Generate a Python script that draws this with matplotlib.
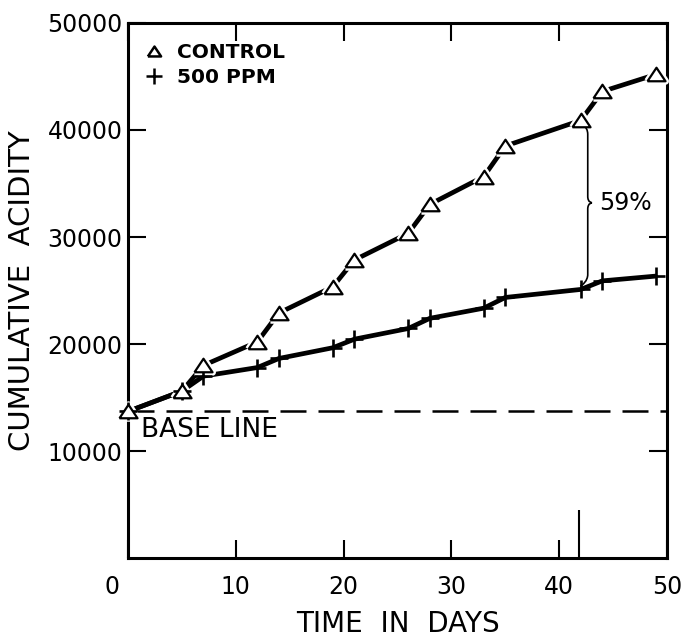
import numpy as np
import matplotlib
matplotlib.use('Agg')
import matplotlib.pyplot as plt
from matplotlib.lines import Line2D
from matplotlib.path import Path
from matplotlib.patches import PathPatch
from matplotlib.transforms import ScaledTranslation

# values
days = [0, 5, 7, 12, 14, 19, 21, 26, 28, 33, 35, 42, 44, 49]
control = [13700, 15600, 18000, 20200, 22900, 25350, 27850, 30350,
           33050, 35650, 38500, 40900, 43600, 45200]
ppm500 = [13700, 15600, 17000, 17800, 18650, 19650, 20450, 21450,
          22400, 23350, 24350, 25100, 25900, 26350]
base_line = 13700
diff_day = 42          # where the 59% difference is marked
diff_label = '59%'
tall_tick_day = 41.8
tall_tick_height = 4500

xticks = [0, 10, 20, 30, 40, 50]
yticks = [10000, 20000, 30000, 40000, 50000]

plt.rcParams['font.family'] = 'DejaVu Sans'

fig = plt.figure(figsize=(6.81, 6.37), dpi=100)
ax = fig.add_axes([0.188, 0.124, 0.7914, 0.8399])

tri = [(-1, -0.75), (1, -0.75), (0, 0.75), (-1, -0.75)]

# connecting lines
ax.plot(days, control, color='black', lw=3.4, zorder=2, solid_capstyle='butt')
ax.plot(days, ppm500, color='black', lw=3.4, zorder=2, solid_capstyle='butt')

# white halo around the triangles, then the markers themselves
ax.plot(days, control, ls='none', marker=tri, ms=13, mfc='white', mec='white',
        mew=5, zorder=3, clip_on=False)
ax.plot(days, ppm500, ls='none', marker='+', ms=13, mec='black', mew=1.9,
        zorder=4, clip_on=False)
ax.plot(days, control, ls='none', marker=tri, ms=13, mfc='white', mec='black',
        mew=1.6, zorder=5, clip_on=False)

# dashed base line
ax.axhline(base_line, color='black', lw=1.8, dashes=(10.4, 4.8), zorder=1)
ax.text(1.2, base_line - 550, 'BASE LINE', fontsize=19, va='top', ha='left')

# brace showing the difference at day 42
i = days.index(diff_day)
ytop, ybot = control[i] - 700, ppm500[i] + 800
ymid = (control[i] + ppm500[i]) / 2 + 200
x0 = diff_day + 0.65
s = 600
verts = [(x0 - 0.45, ytop + 250), (x0, ytop), (x0, ytop - s),
         (x0, ymid + s),
         (x0, ymid), (x0 + 0.4, ymid), (x0 + 0.4, ymid),
         (x0 + 0.4, ymid), (x0, ymid), (x0, ymid - s),
         (x0, ybot + s),
         (x0, ybot), (x0 - 0.5, ybot - 400), (x0 - 0.7, ybot - 500)]
codes = [Path.MOVETO, Path.CURVE3, Path.CURVE3,
         Path.LINETO,
         Path.CURVE4, Path.CURVE4, Path.CURVE4,
         Path.CURVE4, Path.CURVE4, Path.CURVE4,
         Path.LINETO,
         Path.CURVE4, Path.CURVE4, Path.CURVE4]
ax.add_patch(PathPatch(Path(verts, codes), fill=False, lw=1.2, color='black', zorder=3))
ax.text(x0 + 1.1, ymid, diff_label, fontsize=17, va='center', ha='left')

# the tall mark near day 42 on the time axis
ax.vlines(tall_tick_day, 0, tall_tick_height, color='black', lw=1.5)

ax.set_xlim(0, 50)
ax.set_ylim(0, 50000)
ax.set_xticks(xticks)
ax.set_yticks(yticks)
ax.set_yticklabels([str(v) for v in yticks])

for sp in ax.spines.values():
    sp.set_linewidth(2.2)
ax.tick_params(direction='in', length=13, width=1.5, top=True, right=True,
               labelsize=17)
ax.tick_params(axis='x', pad=12)
ax.tick_params(axis='y', pad=4)

# the "0" label sits a little to the left of the corner
lab0 = ax.get_xticklabels()[0]
lab0.set_transform(lab0.get_transform() + ScaledTranslation(-0.16, 0, fig.dpi_scale_trans))

ax.set_xlabel('TIME  IN  DAYS', fontsize=20)
ax.xaxis.set_label_coords(0.5, -0.098)
ax.set_ylabel('CUMULATIVE  ACIDITY', fontsize=21)
ax.yaxis.set_label_coords(-0.17, 0.5)

handles = [Line2D([], [], ls='none', marker=tri, ms=9.5, mfc='white', mec='black', mew=1.8),
           Line2D([], [], ls='none', marker='+', ms=11, mec='black', mew=1.8)]
ax.legend(handles, ['CONTROL', '500 PPM'], loc='upper left', frameon=False,
          bbox_to_anchor=(-0.005, 0.996), handlelength=1.0, handletextpad=0.65,
          labelspacing=0.3, prop={'size': 14.5, 'weight': 'bold'})

fig.savefig('out.png', dpi=100)
